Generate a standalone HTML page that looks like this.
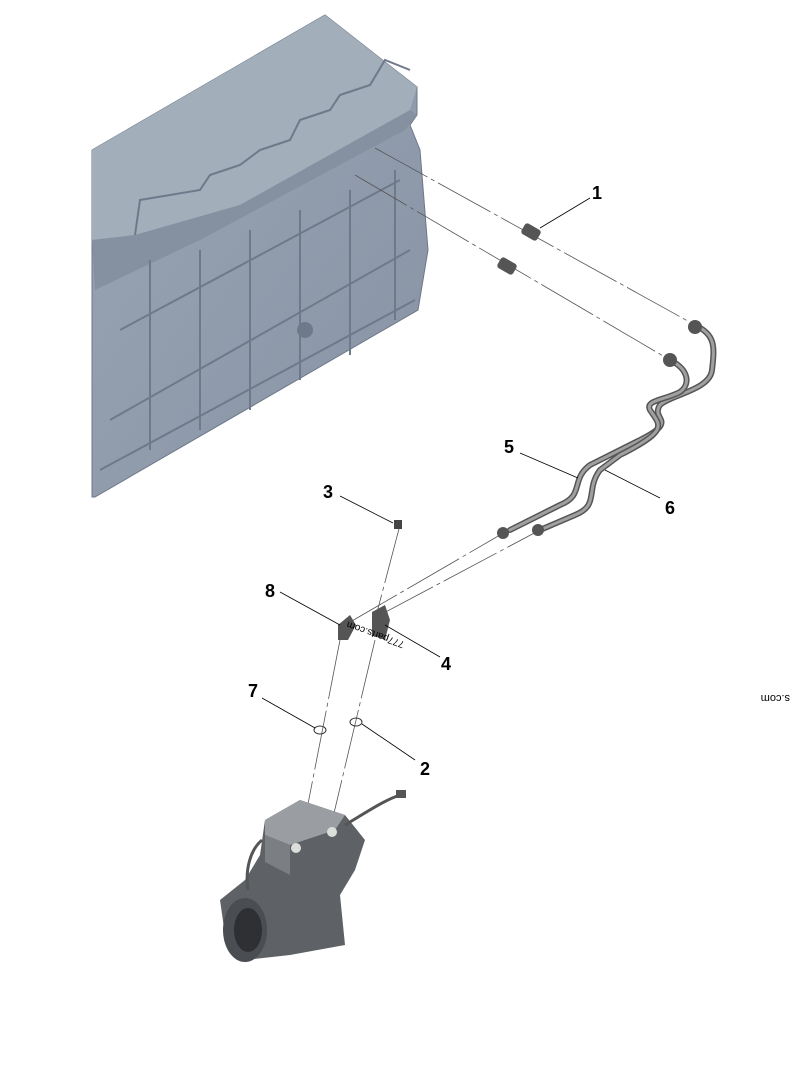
<!DOCTYPE html>
<html><head><meta charset="utf-8"><style>
html,body{margin:0;padding:0;background:#fff;}
svg{display:block;}
text{font-family:"Liberation Sans",sans-serif;font-weight:bold;font-size:18px;fill:#000;}
</style></head><body>
<svg width="800" height="1067" viewBox="0 0 800 1067" xmlns="http://www.w3.org/2000/svg">
<defs>
<linearGradient id="eg" x1="0" y1="0" x2="1" y2="1">
<stop offset="0" stop-color="#9aa6b5"/><stop offset="1" stop-color="#8793a4"/></linearGradient>
</defs>
<!-- engine block -->
<polygon points="92,150 325,15 417,87 417,115 410,125 420,150 428,250 418,310 95,497 92,497" fill="url(#eg)" stroke="#6d7888" stroke-width="1"/>
<polygon points="92,150 325,15 417,87 410,110 240,205 135,235 92,240" fill="#a3aebb"/>
<polygon points="92,240 135,235 240,205 410,110 417,115 405,130 200,240 95,290" fill="#8591a1"/>
<g stroke="#6e7a8a" stroke-width="2" fill="none">
<path d="M135,235 L140,200 L200,190 L210,175 L240,165 L260,150 L290,140 L300,120 L330,110 L340,95 L370,85 L385,60 L410,70"/>
<path d="M120,330 L400,180 M110,420 L410,250 M100,470 L415,300"/>
<path d="M150,260 L150,450 M200,250 L200,430 M250,230 L250,410 M300,210 L300,380 M350,190 L350,355 M395,170 L395,320"/>
</g>
<circle cx="305" cy="330" r="8" fill="#6e7a8a"/>
<!-- dashed leader lines fittings -->
<g stroke="#555" stroke-width="0.8" fill="none" stroke-dasharray="60,4,4,4">
<line x1="375" y1="148" x2="695" y2="325"/>
<line x1="355" y1="175" x2="670" y2="360"/>
<line x1="345" y1="625" x2="500" y2="535"/>
<line x1="380" y1="615" x2="540" y2="530"/>
<line x1="400" y1="525" x2="375" y2="620"/>
<line x1="340" y1="640" x2="300" y2="845"/>
<line x1="375" y1="640" x2="330" y2="830"/>
</g>
<!-- fittings -->
<rect x="522" y="226" width="18" height="12" rx="3" fill="#555" transform="rotate(30 531 232)"/>
<rect x="498" y="260" width="18" height="12" rx="3" fill="#555" transform="rotate(30 507 266)"/>
<!-- pipes -->
<g fill="none" stroke-linecap="round">
<path d="M695,325 C715,335 715,345 712,370 C710,390 670,395 660,405 C650,420 680,420 640,440 L590,465 C570,480 585,495 560,505 L510,530" stroke="#555" stroke-width="6"/>
<path d="M695,325 C715,335 715,345 712,370 C710,390 670,395 660,405 C650,420 680,420 640,440 L590,465 C570,480 585,495 560,505 L510,530" stroke="#a0a0a0" stroke-width="3"/>
<path d="M670,360 C690,370 690,385 680,392 C665,400 645,400 650,410 C660,425 670,430 620,455 L600,470 C585,490 600,505 575,515 L540,530" stroke="#555" stroke-width="6"/>
<path d="M670,360 C690,370 690,385 680,392 C665,400 645,400 650,410 C660,425 670,430 620,455 L600,470 C585,490 600,505 575,515 L540,530" stroke="#a0a0a0" stroke-width="3"/>
</g>
<circle cx="695" cy="327" r="7" fill="#555"/><circle cx="670" cy="360" r="7" fill="#555"/>
<circle cx="503" cy="533" r="6" fill="#555"/><circle cx="538" cy="530" r="6" fill="#555"/>
<rect x="394" y="520" width="8" height="9" fill="#444"/>
<!-- elbows -->
<path d="M338,625 L350,615 L356,625 L348,640 L338,640 Z" fill="#555"/>
<path d="M372,612 L385,605 L390,620 L385,640 L372,635 Z" fill="#555"/>
<ellipse cx="320" cy="730" rx="6" ry="4" fill="none" stroke="#333"/>
<ellipse cx="356" cy="722" rx="6" ry="4" fill="none" stroke="#333"/>
<!-- compressor -->
<path d="M265,820 L300,800 L345,815 L365,840 L355,870 L340,895 L345,945 L290,955 L245,960 L225,935 L220,900 L245,880 L260,855 Z" fill="#5e6266"/>
<path d="M265,820 L300,800 L345,815 L335,830 L290,845 L265,835 Z" fill="#9a9ea3"/>
<path d="M265,835 L290,845 L290,875 L265,862 Z" fill="#7b7f84"/>
<ellipse cx="245" cy="930" rx="22" ry="32" fill="#4a4d51"/>
<ellipse cx="248" cy="930" rx="14" ry="22" fill="#2e3033"/>
<circle cx="296" cy="848" r="5" fill="#ddd"/><circle cx="332" cy="832" r="5" fill="#ddd"/>
<path d="M345,825 C370,810 385,800 400,795" stroke="#555" stroke-width="3" fill="none"/>
<rect x="396" y="790" width="10" height="8" fill="#555"/>
<path d="M262,840 C250,850 245,870 248,890" stroke="#555" stroke-width="3" fill="none"/>
<!-- leaders -->
<g stroke="#000" stroke-width="0.8" fill="none">
<line x1="590" y1="198" x2="540" y2="228"/>
<line x1="520" y1="453" x2="578" y2="478"/>
<line x1="660" y1="498" x2="605" y2="470"/>
<line x1="340" y1="496" x2="393" y2="523"/>
<line x1="280" y1="592" x2="340" y2="625"/>
<line x1="440" y1="657" x2="385" y2="625"/>
<line x1="262" y1="698" x2="315" y2="728"/>
<line x1="415" y1="760" x2="362" y2="724"/>
</g>
<text x="592" y="199">1</text>
<text x="420" y="775">2</text>
<text x="323" y="498">3</text>
<text x="441" y="670">4</text>
<text x="504" y="453">5</text>
<text x="665" y="514">6</text>
<text x="248" y="697">7</text>
<text x="265" y="597">8</text>
<text x="0" y="0" transform="translate(405,642) rotate(200)" style="font-weight:normal;font-size:10px">777parts.com</text>
<text x="0" y="0" transform="translate(790,695) rotate(180)" style="font-weight:normal;font-size:11px">s.com</text>
</svg>
</body></html>
